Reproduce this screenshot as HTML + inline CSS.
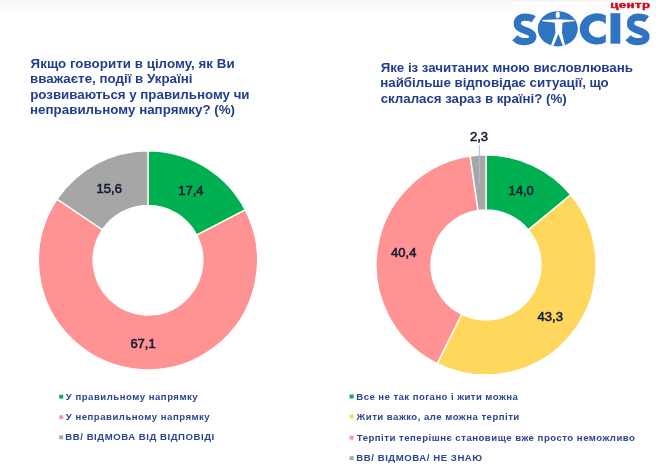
<!DOCTYPE html>
<html><head><meta charset="utf-8">
<style>
html,body{margin:0;padding:0;background:#fff;}
body{width:656px;height:466px;overflow:hidden;position:relative;font-family:"Liberation Sans",sans-serif;}
.top{position:absolute;left:0;top:0;width:656px;height:13px;background:linear-gradient(#f5f5f5,#fff);}
svg{position:absolute;left:0;top:0;will-change:transform;}
.t{font-family:"Liberation Sans",sans-serif;font-weight:bold;font-size:13.33px;fill:#213E8E;}
.v{font-family:"Liberation Sans",sans-serif;font-weight:normal;font-size:13px;fill:#111B33;stroke:#111B33;stroke-width:0.55px;}
.l{font-family:"Liberation Sans",sans-serif;font-weight:bold;font-size:9.6px;fill:#2A4692;letter-spacing:0.4px;}
</style></head><body>
<div class="top"></div>
<svg width="656" height="466" viewBox="0 0 656 466">
<!-- logo -->
<rect x="511" y="1.5" width="139.5" height="45.5" fill="#fdfdfd"/>
<path id="S1" d="M533.6,19.3 C531.5,17.8 528,17.2 524.8,17.2 C520.5,17.2 517.3,19.5 517.3,23.4 C517.3,27.5 521,29 525.5,30.7 C530,32.4 532.8,33.5 532.8,36.5 C532.8,40 529,41.7 524.7,41.7 C520.5,41.7 517,40 514.9,37.7" fill="none" stroke="#2F74C0" stroke-width="7.2"/>
<path transform="translate(113.2,0)" d="M533.6,19.3 C531.5,17.8 528,17.2 524.8,17.2 C520.5,17.2 517.3,19.5 517.3,23.4 C517.3,27.5 521,29 525.5,30.7 C530,32.4 532.8,33.5 532.8,36.5 C532.8,40 529,41.7 524.7,41.7 C520.5,41.7 517,40 514.9,37.7" fill="none" stroke="#2F74C0" stroke-width="7.2"/>
<rect x="610.5" y="13.2" width="9.8" height="30.5" fill="#2F74C0"/>
<path d="M605.8,15.38 A17.3,15.65 0 1 0 605.8,42.32 L605.8,33.9 A9.33,8.4 0 1 1 605.8,24.3 Z" fill="#2F74C0"/>
<ellipse cx="557.8" cy="28.8" rx="20" ry="17.6" fill="#2F74C0"/>
<ellipse cx="557.75" cy="15.0" rx="2.05" ry="3.2" fill="#fff"/>
<path d="M542.2,20.1 L557.7,19.3 L574.2,20.1 L574.2,21.2 L566.5,21.9 L562.4,22.7 L562,32.9 L565,45.6 L562.9,45.8 L558.4,33.8 L553.5,45.8 L550.9,45.6 L555.5,32.9 L554.8,22.7 L549.5,21.9 L542.2,21.2 Z" fill="#fff"/>
<text transform="translate(610.3,8.0) scale(1.38,1)" font-family="Liberation Sans" font-weight="bold" font-size="9.6" letter-spacing="0.3" fill="#D00A1A" stroke="#D00A1A" stroke-width="0.45">центр</text>
<!-- titles -->
<text class="t" x="30.57" y="67.9" textLength="204.09" lengthAdjust="spacing">Якщо говорити в цілому, як Ви</text>
<text class="t" x="30.04" y="83.4" textLength="162.48" lengthAdjust="spacing">вважаєте, події в Україні</text>
<text class="t" x="30.18" y="98.9" textLength="219.38" lengthAdjust="spacing">розвиваються у правильному чи</text>
<text class="t" x="30.04" y="114.4" textLength="205.01" lengthAdjust="spacing">неправильному напрямку? (%)</text>
<text class="t" x="380.65" y="71.8" textLength="252.28" lengthAdjust="spacing">Яке із зачитаних мною висловлювань</text>
<text class="t" x="380.24" y="87.3" textLength="228.47" lengthAdjust="spacing">найбільше відповідає ситуації, що</text>
<text class="t" x="380.65" y="102.8" textLength="186.00" lengthAdjust="spacing">склалася зараз в країні? (%)</text>
<text class="l" x="65.80" y="399.8" textLength="132.28" lengthAdjust="spacing">У правильному напрямку</text>
<text class="l" x="65.80" y="419.8" textLength="144.31" lengthAdjust="spacing">У неправильному напрямку</text>
<text class="l" x="65.34" y="440.1" textLength="149.27" lengthAdjust="spacing">ВВ/ ВІДМОВА ВІД ВІДПОВІДІ</text>
<text class="l" x="356.29" y="400.1" textLength="161.84" lengthAdjust="spacing">Все не так погано і жити можна</text>
<text class="l" x="356.59" y="419.8" textLength="163.07" lengthAdjust="spacing">Жити важко, але можна терпіти</text>
<text class="l" x="356.75" y="440.7" textLength="278.54" lengthAdjust="spacing">Терпіти теперішнє становище вже просто неможливо</text>
<text class="l" x="356.29" y="461.2" textLength="126.35" lengthAdjust="spacing">ВВ/ ВІДМОВА/ НЕ ЗНАЮ</text>
<!-- donuts -->
<path d="M148.00,150.70 A109.6,109.6 0 0 1 245.28,209.82 L196.64,235.06 A54.8,54.8 0 0 0 148.00,205.50 Z" fill="#00B050" stroke="#fff" stroke-width="1.4" stroke-linejoin="round"/>
<path d="M245.28,209.82 A109.6,109.6 0 1 1 57.03,199.18 L102.51,229.74 A54.8,54.8 0 1 0 196.64,235.06 Z" fill="#FF9393" stroke="#fff" stroke-width="1.4" stroke-linejoin="round"/>
<path d="M57.03,199.18 A109.6,109.6 0 0 1 148.00,150.70 L148.00,205.50 A54.8,54.8 0 0 0 102.51,229.74 Z" fill="#A6A6A6" stroke="#fff" stroke-width="1.4" stroke-linejoin="round"/>
<path d="M486.00,154.90 A110,110 0 0 1 570.76,194.78 L528.38,229.84 A55.0,55.0 0 0 0 486.00,209.90 Z" fill="#00B050" stroke="#fff" stroke-width="1.4" stroke-linejoin="round"/>
<path d="M570.76,194.78 A110,110 0 0 1 437.30,363.53 L461.65,314.22 A55.0,55.0 0 0 0 528.38,229.84 Z" fill="#FFD75C" stroke="#fff" stroke-width="1.4" stroke-linejoin="round"/>
<path d="M437.30,363.53 A110,110 0 0 1 470.16,156.05 L478.08,210.47 A55.0,55.0 0 0 0 461.65,314.22 Z" fill="#FF9393" stroke="#fff" stroke-width="1.4" stroke-linejoin="round"/>
<path d="M470.16,156.05 A110,110 0 0 1 486.00,154.90 L486.00,209.90 A55.0,55.0 0 0 0 478.08,210.47 Z" fill="#A6A6A6" stroke="#fff" stroke-width="1.4" stroke-linejoin="round"/>
<line x1="479.4" y1="145" x2="479.4" y2="183" stroke="#A9BFEE" stroke-width="1"/>
<!-- values -->
<text class="v" x="96.6" y="192.9">15,6</text>
<text class="v" x="178.2" y="194.8">17,4</text>
<text class="v" x="130.4" y="348">67,1</text>
<text class="v" x="508.5" y="194.8">14,0</text>
<text class="v" x="537.6" y="320.5">43,3</text>
<text class="v" x="391.1" y="256.6">40,4</text>
<text class="v" x="470.0" y="141">2,3</text>
<!-- legends -->
<rect x="59.2" y="394.8" width="4" height="3.8" fill="#00B050"/>
<rect x="59.2" y="415.3" width="4" height="3.8" fill="#FF9393"/>
<rect x="59.2" y="435.4" width="4" height="3.8" fill="#A6A6A6"/>
<rect x="349.6" y="394.6" width="4" height="3.8" fill="#00B050"/>
<rect x="349.6" y="414.6" width="4" height="3.8" fill="#FFD75C"/>
<rect x="349.6" y="435.8" width="4" height="3.8" fill="#FF9393"/>
<rect x="349.6" y="456.2" width="4" height="3.8" fill="#A6A6A6"/>
</svg>
</body></html>
